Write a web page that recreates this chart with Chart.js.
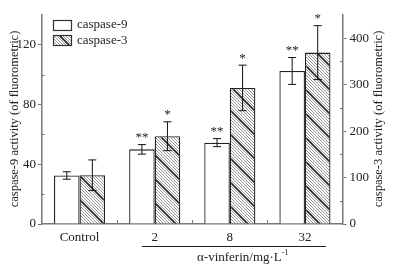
<!DOCTYPE html>
<html>
<head>
<meta charset="utf-8">
<script src="https://cdn.jsdelivr.net/npm/chart.js@4"></script>
<style>
  html, body { margin: 0; padding: 0; background: #fff; }
  #wrap { width: 393px; height: 271px; }
  .prime { font-family: "Liberation Serif"; position: absolute; left: -999px; top: 0; }
</style>
</head>
<body>
<span class="prime">Control caspase α</span>
<div id="wrap"><canvas id="chart" width="393" height="271"></canvas></div>
<script>
const groups = ['Control', '2', '8', '32'];
const casp9 = [32.5, 50, 54.5, 102.5];
const casp9Err = [2.5, 3.2, 2.7, 9];
const casp3 = [105, 189, 293, 369];
const casp3Err = [33, 31, 49, 58];
const sig9 = ['', '**', '**', '**'];
const sig3 = ['', '*', '*', '*'];
const leftTicks = [0, 40, 80, 120];
const rightTicks = [0, 100, 200, 300, 400];

const serif = "'Liberation Serif', 'Times New Roman', Times, serif";

// diagonal hatch fill for caspase-3
function makeHatch() {
    const s = 24;
    const c = document.createElement('canvas');
    c.width = s; c.height = s;
    const g = c.getContext('2d');
    g.fillStyle = '#fff';
    g.fillRect(0, 0, s, s);
    for (let k = -s; k <= 2 * s; k += 3) {
        const thick = ((k % s) + s) % s === 0;
        g.strokeStyle = thick ? '#222' : '#888';
        g.lineWidth = thick ? 1.6 : 0.9;
        g.beginPath();
        g.moveTo(-s, -s + k);
        g.lineTo(2 * s, 2 * s + k);
        g.stroke();
    }
    return g.createPattern(c, 'repeat');
}
const hatch = makeHatch();

const extras = {
    id: 'extras',
    afterDatasetsDraw(chart) {
        const ctx = chart.ctx;
        const y = chart.scales.y, y1 = chart.scales.y1, x = chart.scales.x;
        const area = chart.chartArea;
        ctx.save();

        // error bars + significance marks
        const sets = [
            { vals: casp9, err: casp9Err, sig: sig9, scale: y },
            { vals: casp3, err: casp3Err, sig: sig3, scale: y1 }
        ];
        sets.forEach((s, di) => {
            const meta = chart.getDatasetMeta(di);
            meta.data.forEach((bar, i) => {
                const top = s.scale.getPixelForValue(s.vals[i] + s.err[i]);
                const bot = s.scale.getPixelForValue(s.vals[i] - s.err[i]);
                ctx.strokeStyle = '#111';
                ctx.lineWidth = 1;
                ctx.beginPath();
                ctx.moveTo(bar.x, top); ctx.lineTo(bar.x, bot);
                ctx.moveTo(bar.x - 4, top); ctx.lineTo(bar.x + 4, top);
                ctx.moveTo(bar.x - 4, bot); ctx.lineTo(bar.x + 4, bot);
                ctx.stroke();
                if (s.sig[i]) {
                    ctx.fillStyle = '#1a1a2a';
                    ctx.font = '13px ' + serif;
                    ctx.textAlign = 'center';
                    ctx.textBaseline = 'middle';
                    ctx.fillText(s.sig[i], bar.x, top - 7);
                }
            });
        });

        // minor ticks, pointing inward
        ctx.strokeStyle = '#777';
        ctx.lineWidth = 1;
        ctx.beginPath();
        [20, 60, 100].forEach(v => {
            const p = Math.round(y.getPixelForValue(v)) + 0.5;
            ctx.moveTo(area.left, p); ctx.lineTo(area.left + 2.5, p);
        });
        [50, 150, 250, 350].forEach(v => {
            const p = Math.round(y1.getPixelForValue(v)) + 0.5;
            ctx.moveTo(area.right, p); ctx.lineTo(area.right - 2.5, p);
        });
        // x ticks between groups, pointing up
        for (let i = 1; i < groups.length; i++) {
            const p = Math.round((x.getPixelForValue(i - 1) + x.getPixelForValue(i)) / 2) + 0.5;
            ctx.moveTo(p, area.bottom); ctx.lineTo(p, area.bottom - 4);
        }
        ctx.stroke();

        // legend
        ctx.lineWidth = 1.2;
        ctx.strokeStyle = '#333';
        ctx.fillStyle = '#fff';
        ctx.fillRect(53.5, 20.5, 18, 10);
        ctx.strokeRect(53.5, 20.5, 18, 10);
        ctx.fillStyle = hatch;
        ctx.fillRect(53.5, 35.5, 18, 10);
        ctx.strokeRect(53.5, 35.5, 18, 10);
        ctx.fillStyle = '#222';
        ctx.font = '13px ' + serif;
        ctx.textAlign = 'left';
        ctx.textBaseline = 'middle';
        ctx.fillText('caspase-9', 77, 25);
        ctx.fillText('caspase-3', 77, 40.5);

        // axis titles, both reading upward
        ctx.font = '12.5px ' + serif;
        ctx.textAlign = 'center';
        ctx.save();
        ctx.translate(15, 119);
        ctx.rotate(-Math.PI / 2);
        ctx.fillText('caspase-9 activity (of fluorometric)', 0, 0);
        ctx.restore();
        ctx.save();
        ctx.translate(379, 119);
        ctx.rotate(-Math.PI / 2);
        ctx.fillText('caspase-3 activity (of fluorometric)', 0, 0);
        ctx.restore();

        // concentration bracket + label
        ctx.strokeStyle = '#222';
        ctx.lineWidth = 1;
        ctx.beginPath();
        ctx.moveTo(142, 246.5); ctx.lineTo(326, 246.5);
        ctx.stroke();
        ctx.textAlign = 'left';
        ctx.font = '13px ' + serif;
        const main = 'α-vinferin/mg·L';
        ctx.fillText(main, 197, 258);
        const w = ctx.measureText(main).width;
        ctx.font = '8px ' + serif;
        ctx.fillText('-1', 197 + w, 253);
        ctx.restore();
    }
};

function draw() {
    new Chart(document.getElementById('chart'), {
        type: 'bar',
        data: {
            labels: groups,
            datasets: [{
                label: 'caspase-9',
                data: casp9,
                yAxisID: 'y',
                backgroundColor: '#fff',
                borderColor: '#222',
                borderWidth: 1.3
            }, {
                label: 'caspase-3',
                data: casp3,
                yAxisID: 'y1',
                backgroundColor: hatch,
                borderColor: '#222',
                borderWidth: 1.3
            }]
        },
        options: {
            responsive: false,
            animation: false,
            layout: { padding: { top: 15, left: 0, right: 0, bottom: 0 } },
            datasets: { bar: { categoryPercentage: 0.68, barPercentage: 1 } },
            plugins: { legend: { display: false }, tooltip: { enabled: false } },
            scales: {
                x: {
                    grid: { display: false, drawTicks: false },
                    border: { display: true, color: '#777', width: 1.5 },
                    ticks: { color: '#222', font: { family: serif, size: 13 }, padding: 6, maxRotation: 0 },
                    afterFit(s) { s.height = 47; }
                },
                y: {
                    position: 'left',
                    min: 0, max: 140,
                    afterBuildTicks(s) { s.ticks = leftTicks.map(v => ({ value: v })); },
                    grid: { display: true, drawOnChartArea: false, tickLength: 4, color: '#777', lineWidth: 1 },
                    border: { display: true, color: '#777', width: 1.5 },
                    ticks: { color: '#222', font: { family: serif, size: 13 }, padding: 2 },
                    afterFit(s) { s.width = 42; }
                },
                y1: {
                    position: 'right',
                    min: 0, max: 450,
                    afterBuildTicks(s) { s.ticks = rightTicks.map(v => ({ value: v })); },
                    grid: { display: true, drawOnChartArea: false, tickLength: 4, color: '#777', lineWidth: 1 },
                    border: { display: true, color: '#777', width: 1.5 },
                    ticks: { color: '#222', font: { family: serif, size: 13 }, padding: 3 },
                    afterFit(s) { s.width = 50.5; }
                }
            }
        },
        plugins: [extras]
    });
}

if (document.fonts && document.fonts.load) {
    document.fonts.load("13px 'Liberation Serif'").then(draw, draw);
} else {
    draw();
}
</script>
</body>
</html>
